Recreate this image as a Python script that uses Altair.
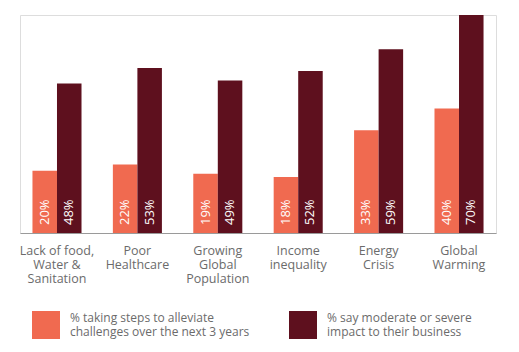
import altair as alt
import pandas as pd

categories = ["Lack of food,|Water &|Sanitation", "Poor|Healthcare", "Growing|Global|Population",
              "Income|inequality", "Energy|Crisis", "Global|Warming"]
series = ["% taking steps to alleviate|challenges over the next 3 years",
          "% say moderate or severe|impact to their business"]
taking_steps = [20, 22, 19, 18, 33, 40]
impact = [48, 53, 49, 52, 59, 70]
colors = ["#F06A50", "#5E101E"]

rows = []
for c, a, b in zip(categories, taking_steps, impact):
    rows.append({"category": c, "series": series[0], "value": a, "order": 0})
    rows.append({"category": c, "series": series[1], "value": b, "order": 1})
df = pd.DataFrame(rows)
df["label"] = df["value"].astype(str) + "%"

FONT = "Open Sans"
GREY = "#6b6b6b"

base = alt.Chart(df).encode(
    x=alt.X("category:N", sort=categories,
            scale=alt.Scale(paddingInner=0.39, paddingOuter=0.155),
            axis=alt.Axis(title=None, labelAngle=0, ticks=False, domain=True,
                          domainColor="#9a9a9a", domainWidth=1,
                          labelExpr="split(datum.label, '|')",
                          labelFont=FONT, labelFontSize=12.5, labelColor=GREY,
                          labelLineHeight=14, labelPadding=11, labelBaseline="top")),
    xOffset=alt.XOffset("series:N", sort=series,
                        scale=alt.Scale(paddingInner=0, paddingOuter=0)),
)

bars = base.mark_bar().encode(
    y=alt.Y("value:Q", scale=alt.Scale(domain=[0, 70], nice=False, zero=True), axis=None),
    color=alt.Color("series:N", sort=series,
                    scale=alt.Scale(domain=series, range=colors),
                    legend=alt.Legend(title=None, orient="none", legendX=12, legendY=296,
                                      direction="horizontal", columns=2, padding=0,
                                      symbolType="square", symbolSize=784,
                                      symbolStrokeWidth=0, symbolOpacity=1,
                                      labelExpr="split(datum.label, '|')",
                                      labelFont=FONT, labelFontSize=12, labelColor=GREY,
                                      labelOffset=10, labelLimit=400, labelBaseline="bottom",
                                      columnPadding=39)),
)

text = base.mark_text(angle=270, align="left", baseline="middle", dx=8,
                      color="white", font=FONT, fontSize=13).encode(
    y=alt.datum(0),
    text="label:N",
)

chart = alt.layer(bars, text).properties(
    width=476, height=218,
    autosize=alt.AutoSizeParams(type="none"),
    padding={"left": 20, "top": 15, "right": 23, "bottom": 119},
).configure_view(stroke=None).configure(background="white")

chart.save("out.html", embed_options={"renderer": "svg", "actions": False})
